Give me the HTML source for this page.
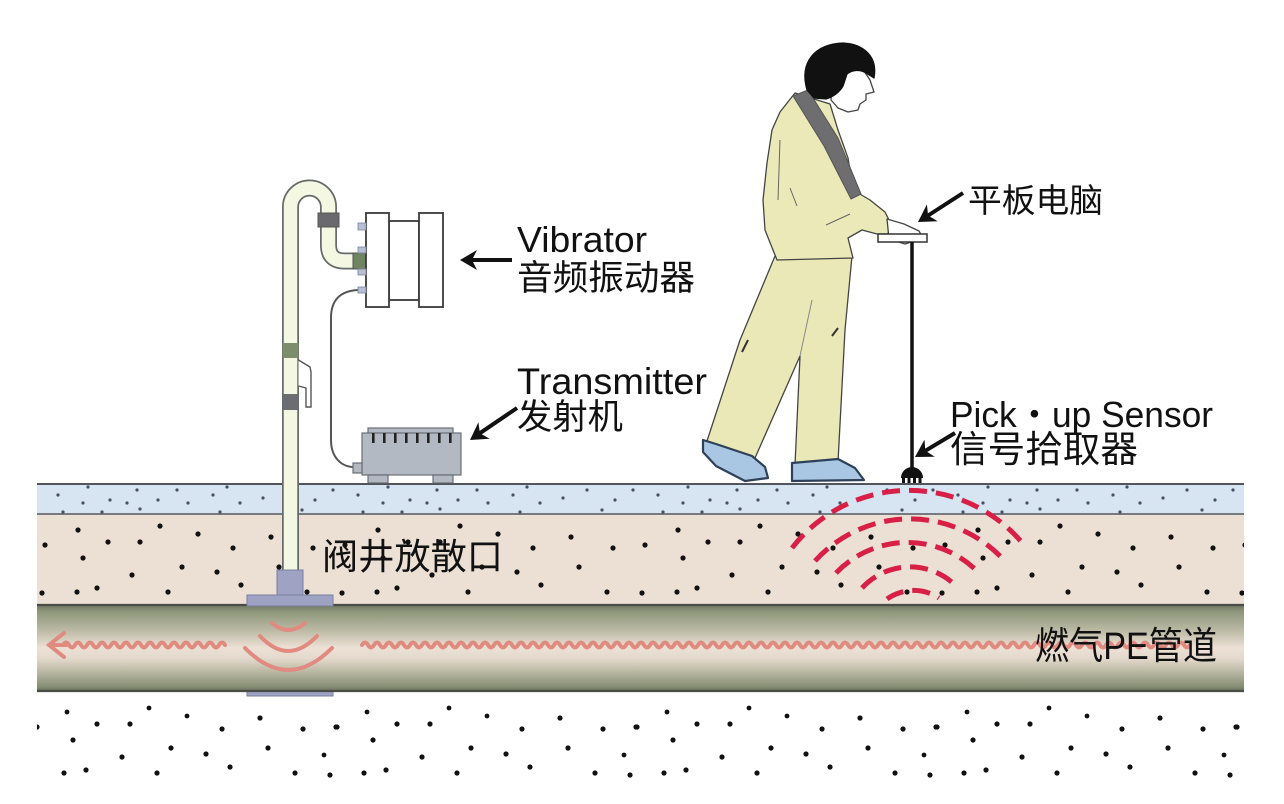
<!DOCTYPE html>
<html><head><meta charset="utf-8">
<style>
html,body{margin:0;padding:0;background:#fff;}
svg{display:block;}
text{font-family:"Liberation Sans","Noto Sans CJK SC",sans-serif;fill:#111;}
</style></head>
<body>
<svg width="1284" height="804" viewBox="0 0 1284 804" xmlns="http://www.w3.org/2000/svg">
<defs>
  <linearGradient id="pipeG" x1="0" y1="0" x2="0" y2="1">
    <stop offset="0" stop-color="#6f7862"/>
    <stop offset="0.08" stop-color="#8e977c"/>
    <stop offset="0.3" stop-color="#bdbba6"/>
    <stop offset="0.5" stop-color="#ede1d6"/>
    <stop offset="0.62" stop-color="#e4d9cc"/>
    <stop offset="0.8" stop-color="#b2b39c"/>
    <stop offset="0.95" stop-color="#858d73"/>
    <stop offset="1" stop-color="#6a7160"/>
  </linearGradient>
  <pattern id="pBlue" patternUnits="userSpaceOnUse" x="37" y="0" width="300" height="804">
    <g fill="#4a5060">
      <circle cx="21" cy="495" r="1.6"/><circle cx="46" cy="503" r="1.6"/><circle cx="51" cy="487" r="1.6"/>
      <circle cx="73" cy="500" r="1.6"/><circle cx="90" cy="503" r="1.6"/><circle cx="100" cy="490" r="1.6"/>
      <circle cx="103" cy="509" r="1.6"/><circle cx="121" cy="500" r="1.6"/><circle cx="140" cy="490" r="1.6"/>
      <circle cx="151" cy="503" r="1.6"/><circle cx="176" cy="495" r="1.6"/><circle cx="190" cy="487" r="1.6"/>
      <circle cx="203" cy="503" r="1.6"/><circle cx="226" cy="498" r="1.6"/><circle cx="183" cy="512" r="1.6"/>
      <circle cx="65" cy="512" r="1.6"/><circle cx="26" cy="512" r="1.6"/><circle cx="278" cy="500" r="1.6"/>
      <circle cx="296" cy="490" r="1.6"/><circle cx="250" cy="490" r="1.6"/><circle cx="265" cy="510" r="1.6"/>
    </g>
  </pattern>
  <pattern id="pBeige" patternUnits="userSpaceOnUse" x="37" y="0" width="300" height="804">
    <g fill="#111">
      <circle cx="5" cy="593" r="2.6"/><circle cx="8" cy="545" r="2.6"/><circle cx="40" cy="592" r="2.6"/>
      <circle cx="41" cy="530" r="2.6"/><circle cx="46" cy="558" r="2.6"/><circle cx="60" cy="588" r="2.6"/>
      <circle cx="71" cy="542" r="2.6"/><circle cx="95" cy="575" r="2.6"/><circle cx="103" cy="542" r="2.6"/>
      <circle cx="123" cy="526" r="2.6"/><circle cx="131" cy="592" r="2.6"/><circle cx="145" cy="567" r="2.6"/>
      <circle cx="161" cy="534" r="2.6"/><circle cx="180" cy="572" r="2.6"/><circle cx="196" cy="548" r="2.6"/>
      <circle cx="204" cy="585" r="2.6"/><circle cx="234" cy="537" r="2.6"/><circle cx="242" cy="567" r="2.6"/>
      <circle cx="270" cy="592" r="2.6"/><circle cx="276" cy="548" r="2.6"/>
    </g>
  </pattern>
  <pattern id="pBot" patternUnits="userSpaceOnUse" x="37" y="0" width="300" height="804">
    <g fill="#111">
      <circle cx="30" cy="712" r="2.4"/><circle cx="60" cy="724" r="2.6"/><circle cx="93" cy="724" r="2.6"/>
      <circle cx="112" cy="708" r="2.4"/><circle cx="150" cy="716" r="2.4"/><circle cx="185" cy="729" r="2.6"/>
      <circle cx="223" cy="718" r="2.6"/><circle cx="266" cy="729" r="2.6"/><circle cx="299" cy="727" r="2.6"/>
      <circle cx="0" cy="727" r="2.6"/>
      <circle cx="36" cy="740" r="2.6"/><circle cx="85" cy="757" r="2.6"/><circle cx="134" cy="748" r="2.6"/>
      <circle cx="169" cy="754" r="2.6"/><circle cx="231" cy="748" r="2.6"/><circle cx="287" cy="755" r="2.4"/>
      <circle cx="27" cy="773" r="2.6"/><circle cx="49" cy="770" r="2.6"/><circle cx="120" cy="773" r="2.6"/>
      <circle cx="193" cy="767" r="2.6"/><circle cx="258" cy="773" r="2.6"/><circle cx="293" cy="775" r="2.6"/>
    </g>
  </pattern>
</defs>

<rect x="0" y="0" width="1284" height="804" fill="#fff"/>

<!-- ground layers -->
<rect x="37" y="484" width="1207" height="30" fill="#d7e4f2"/>
<rect x="37" y="484" width="1207" height="30" fill="url(#pBlue)"/>
<rect x="37" y="514" width="1207" height="91" fill="#ecdfd4"/>
<rect x="37" y="514" width="1207" height="91" fill="url(#pBeige)"/>
<line x1="37" y1="484" x2="1244" y2="484" stroke="#3d3f44" stroke-width="1.8"/>
<line x1="37" y1="514" x2="1244" y2="514" stroke="#55585e" stroke-width="1.6"/>

<!-- bottom soil dots -->
<rect x="37" y="700" width="1207" height="85" fill="url(#pBot)"/>

<!-- flange bottom under pipe -->
<rect x="247" y="690" width="86" height="6" fill="#9ea3c4" stroke="#7a7fa0" stroke-width="1"/>

<!-- gas pipe -->
<rect x="37" y="605" width="1207" height="86" fill="url(#pipeG)"/>
<line x1="37" y1="605" x2="1244" y2="605" stroke="#4a4d45" stroke-width="2.2"/>
<line x1="37" y1="691" x2="1244" y2="691" stroke="#4a4d45" stroke-width="2.2"/>

<!-- pink flow squiggles -->
<g fill="none" stroke="#e08a80" stroke-width="4" stroke-linecap="round">
  <path d="M63,645 q3,-5 6,0 t6,0 t6,0 t6,0 t6,0 t6,0 t6,0 t6,0 t6,0 t6,0 t6,0 t6,0 t6,0 t6,0 t6,0 t6,0 t6,0 t6,0 t6,0 t6,0 t6,0 t6,0 t6,0 t6,0 t6,0 t6,0 t6,0"/>
  <path d="M49,645 L66,645 M64,633 L49,645 L64,657"/>
  <path d="M362,645 q3,-5 6,0 t6,0 t6,0 t6,0 t6,0 t6,0 t6,0 t6,0 t6,0 t6,0 t6,0 t6,0 t6,0 t6,0 t6,0 t6,0 t6,0 t6,0 t6,0 t6,0 t6,0 t6,0 t6,0 t6,0 t6,0 t6,0 t6,0 t6,0 t6,0 t6,0 t6,0 t6,0 t6,0 t6,0 t6,0 t6,0 t6,0 t6,0 t6,0 t6,0 t6,0 t6,0 t6,0 t6,0 t6,0 t6,0 t6,0 t6,0 t6,0 t6,0 t6,0 t6,0 t6,0 t6,0 t6,0 t6,0 t6,0 t6,0 t6,0 t6,0 t6,0 t6,0 t6,0 t6,0 t6,0 t6,0 t6,0 t6,0 t6,0 t6,0 t6,0 t6,0 t6,0 t6,0 t6,0 t6,0 t6,0 t6,0 t6,0 t6,0 t6,0 t6,0 t6,0 t6,0 t6,0 t6,0 t6,0 t6,0 t6,0 t6,0 t6,0 t6,0 t6,0 t6,0 t6,0 t6,0 t6,0 t6,0 t6,0 t6,0 t6,0 t6,0 t6,0 t6,0 t6,0 t6,0 t6,0 t6,0 t6,0 t6,0 t6,0 t6,0 t6,0 t6,0 t6,0 t6,0 t6,0 t6,0 t6,0 t6,0 t6,0 t6,0 t6,0 t6,0 t6,0 t6,0 t6,0 t6,0 t6,0 t6,0 t6,0 t6,0 t6,0 t6,0 t6,0 t6,0 t6,0 t6,0"/>
  <path d="M272,623 Q288,637 305,623"/>
  <path d="M260,636 Q288,666 317,636"/>
  <path d="M245,648 Q288,692 332,648"/>
</g>

<!-- riser pipe -->
<path d="M290.5,572 L290.5,207 A19,19 0 0 1 328.5,207 L328.5,245 Q328.5,261 344.5,261 L366,261" fill="none" stroke="#666a6a" stroke-width="17"/>
<path d="M290.5,572 L290.5,207 A19,19 0 0 1 328.5,207 L328.5,245 Q328.5,261 344.5,261 L366,261" fill="none" stroke="#f4f8e2" stroke-width="13.5"/>
<rect x="318" y="213" width="21" height="14" fill="#6a6a6e" stroke="#555" stroke-width="1"/>
<rect x="353" y="253" width="13" height="16" fill="#6f8460" stroke="#555" stroke-width="1"/>
<rect x="282.5" y="343" width="16" height="15" fill="#7c8d6c"/>
<rect x="282.5" y="394" width="16" height="16" fill="#6c6d72"/>
<path d="M298.5,360 L310,367 L311,372 L311,407 L306,407 L306,388 L298.5,386" fill="#fff" stroke="#555" stroke-width="1.4"/>

<!-- cable -->
<path d="M358,290 C340,291 331,300 331,318 L331,440 C331,458 342,467 354,467" fill="none" stroke="#555" stroke-width="2"/>

<!-- vibrator -->
<g stroke="#3a3a3a" stroke-width="1.8" fill="#fff">
  <rect x="389" y="221" width="30" height="79"/>
  <rect x="366" y="213" width="23" height="94"/>
  <rect x="419" y="213" width="24" height="94"/>
</g>
<g fill="#b6bfd6" stroke="#7c8498" stroke-width="0.8">
  <rect x="358" y="223" width="8" height="7"/>
  <rect x="358" y="247" width="8" height="6"/>
  <rect x="358" y="269" width="8" height="6"/>
  <rect x="358" y="287" width="8" height="6"/>
</g>

<!-- transmitter -->
<g stroke="#6a6e75" stroke-width="1.2" fill="#b3b9c3">
  <rect x="368" y="428" width="85" height="6"/>
  <rect x="362" y="433" width="99" height="42"/>
  <rect x="368" y="475" width="20" height="8"/>
  <rect x="433" y="475" width="20" height="8"/>
  <rect x="353" y="463" width="9" height="10"/>
</g>
<g fill="#222">
  <rect x="372" y="433" width="2.6" height="10"/><rect x="383" y="433" width="2.6" height="10"/>
  <rect x="394" y="433" width="2.6" height="10"/><rect x="405" y="433" width="2.6" height="10"/>
  <rect x="416" y="433" width="2.6" height="10"/><rect x="427" y="433" width="2.6" height="10"/>
  <rect x="438" y="433" width="2.6" height="10"/><rect x="449" y="433" width="2.6" height="10"/>
</g>

<!-- flange -->
<rect x="277" y="570" width="26" height="26" fill="#9ea3c4" stroke="#7a7fa0" stroke-width="1"/>
<rect x="247" y="595" width="86" height="11" fill="#9ea3c4" stroke="#7a7fa0" stroke-width="1"/>

<!-- red dashed waves -->
<g fill="none" stroke="#d81f46" stroke-width="5" stroke-dasharray="18 9">
  <path d="M792,548 A148,148 0 0 1 1024,545"/>
  <path d="M815,561 A128,128 0 0 1 1001,557"/>
  <path d="M836,573 A99,99 0 0 1 978,572"/>
  <path d="M862,588 A65,65 0 0 1 956,586"/>
  <path d="M887,599 A46,46 0 0 1 939,598"/>
</g>

<!-- person -->
<g stroke="#444" stroke-width="1.3" stroke-linejoin="round">
  <!-- pants -->
  <path d="M775,256 L852,256 L845,330 L838,462 L795,465 L800,356 L755,458 L707,441 L740,340 Z" fill="#eae8b6"/>
  <path d="M800,356 L812,300" fill="none" stroke="#888" stroke-width="1"/>
  <path d="M748,340 L742,352 M838,328 L832,336" fill="none" stroke="#333" stroke-width="2"/>
  <!-- shoes -->
  <path d="M703,440 L716,444 L752,456 L765,467 L768,478 L745,481 L716,466 L703,452 Z" fill="#a9c6e2" stroke="#2e4159" stroke-width="2.2"/>
  <path d="M792,463 L838,459 L855,468 L864,480 L792,481 Z" fill="#a9c6e2" stroke="#2e4159" stroke-width="2.2"/>
  <!-- jacket -->
  <path d="M795,93 L830,104 L838,130 L848,158 L853,190 L870,200 L885,212 L891,224 L888,234 L877,234 L862,230 L848,238 L853,258 L777,260 L765,230 L763,200 L767,163 L772,130 L780,112 Z" fill="#ebe9b8"/>
  <path d="M790,188 L797,206 M780,140 L778,200 M850,214 L826,225" fill="none" stroke="#666" stroke-width="1"/>
  <!-- strap -->
  <path d="M793,96 L808,90 L838,138 L861,194 L851,199 L824,146 Z" fill="#6e6e70" stroke="#555" stroke-width="1"/>
  <!-- hand -->
  <path d="M887,219 L904,224 L919,231 L923,238 L905,244 L889,239 Z" fill="#fff"/>
  <!-- face -->
  <path d="M833,75 L862,68 L870,80 L874,92 L866,94 L866,100 L860,104 L858,110 L848,112 L838,108 L831,100 Z" fill="#fff"/>
  <!-- hair -->
  <path d="M807,90 C799,62 815,44 843,43 C864,44 878,57 874,78 L866,73 C860,69 852,70 847,74 L843,86 C839,93 832,97 826,99 L814,98 Z" fill="#111" stroke="#111"/>
</g>

<!-- tablet and stick -->
<rect x="878" y="234" width="49" height="8" fill="#fff" stroke="#333" stroke-width="1.5"/>
<line x1="912" y1="242" x2="912" y2="470" stroke="#111" stroke-width="3.5"/>
<path d="M901,478 A11,11 0 0 1 923,478 Z" fill="#111"/>
<g fill="#111">
  <rect x="902" y="477" width="3" height="6"/><rect x="907.5" y="477" width="3" height="6"/>
  <rect x="913" y="477" width="3" height="6"/><rect x="918.5" y="477" width="3" height="6"/>
</g>

<!-- arrows -->
<g fill="#111" stroke="none">
  <polygon points="460,260 477,250 472,260 477,270"/>
  <polygon points="470,440 478.4,422.2 479.9,433.2 489.7,438.7"/>
  <polygon points="918,222 926.9,204.4 928.1,215.5 937.7,221.2"/>
  <polygon points="915,457 924.5,439.6 925.3,450.8 934.8,456.8"/>
</g>
<g stroke="#111" stroke-width="4" fill="none">
  <line x1="472" y1="260" x2="512" y2="260"/>
  <line x1="479.9" y1="433.2" x2="517" y2="408"/>
  <line x1="928.1" y1="215.5" x2="963" y2="193"/>
  <line x1="925.3" y1="450.8" x2="955" y2="433"/>
</g>

<!-- labels -->
<text x="517" y="252" font-size="36" textLength="130" lengthAdjust="spacingAndGlyphs">Vibrator</text>
<text x="517" y="290" font-size="35" textLength="178" lengthAdjust="spacingAndGlyphs">音频振动器</text>
<text x="517" y="394" font-size="37" textLength="190" lengthAdjust="spacingAndGlyphs">Transmitter</text>
<text x="517" y="429" font-size="35" textLength="106" lengthAdjust="spacingAndGlyphs">发射机</text>
<text x="968" y="212" font-size="33" textLength="135" lengthAdjust="spacingAndGlyphs">平板电脑</text>
<text x="950" y="427" font-size="36" textLength="263" lengthAdjust="spacingAndGlyphs">Pick・up Sensor</text>
<text x="950" y="462" font-size="37" textLength="188" lengthAdjust="spacingAndGlyphs">信号拾取器</text>
<text x="322" y="569" font-size="36" textLength="181" lengthAdjust="spacingAndGlyphs">阀井放散口</text>
<text x="1035" y="659" font-size="38" textLength="182" lengthAdjust="spacingAndGlyphs">燃气PE管道</text>
</svg>
</body></html>
